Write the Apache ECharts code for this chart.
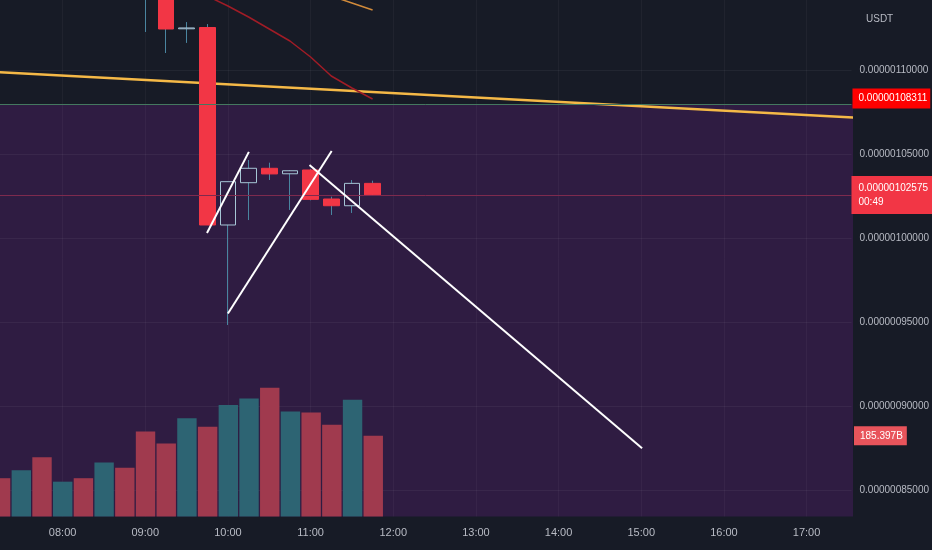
<!DOCTYPE html>
<html><head><meta charset="utf-8">
<script src="https://cdn.jsdelivr.net/npm/echarts@6/dist/echarts.min.js"></script>
<style>html,body{margin:0;padding:0;background:#171b26;}#c{width:932px;height:550px;}</style>
</head><body><div id="c"></div>
<script>
// Time values: minutes since midnight (15-minute candles). Prices in units of 1e-6 USDT.
const candleTimes = [540, 555, 570, 585, 600, 615, 630, 645, 660, 675, 690, 705];
const opens  = [1.1680, 1.1525, 1.1245, 1.12527, 1.00785, 1.0330, 1.04156, 1.0383, 1.04055, 1.0233, 1.0193, 1.0326];
const closes = [1.1525, 1.12437, 1.1250, 1.00785, 1.0336, 1.04156, 1.0382, 1.0401, 1.0231, 1.0193, 1.0326, 1.02575];
const lows   = [1.1226, 1.1101, 1.1161, 1.00785, 0.9484, 1.0108, 1.0346, 1.0168, 1.0225, 1.0138, 1.0150, 1.0257];
const highs  = [1.1720, 1.1540, 1.1285, 1.1273, 1.0336, 1.0465, 1.0449, 1.0405, 1.0412, 1.0247, 1.0346, 1.0342];

const volumeTimes = [435, 450, 465, 480, 495, 510, 525, 540, 555, 570, 585, 600, 615, 630, 645, 660, 675, 690, 705];
const volumes     = [88, 106, 136, 80, 88, 124, 112, 195, 168, 226, 206, 256, 271, 296, 241, 239, 211, 268, 185.397]; // billions
const volumeDir   = ['down','up','down','up','down','up','down','down','down','up','down','up','up','down','up','down','down','up','down'];

const maSlowTimes  = [570, 585, 600, 615, 630, 645, 660, 675, 690, 705];
const maSlowValues = [1.15113, 1.14399, 1.13805, 1.13151, 1.12437, 1.11724, 1.10773, 1.09643, 1.08930, 1.08276];
const maFastTimes  = [675, 690, 705];
const maFastValues = [1.14399, 1.13983, 1.13567];

const trendTimes  = [420, 1060];
const trendValues = [1.09926, 1.07152];

const draw1Times = [584.8, 615.2];  const draw1Values = [1.0031, 1.0513];
const draw2Times = [600.0, 675.3];  const draw2Values = [0.95524, 1.05185];
const draw3Times = [659.2, 900.6];  const draw3Values = [1.04352, 0.8751];

const timeTicks  = [480, 540, 600, 660, 720, 780, 840, 900, 960, 1020];
const priceTicks = [0.85, 0.90, 0.95, 1.00, 1.05, 1.10];

const zoneTop = 1.0798;
const alertPrice = 1.08311;
const lastPrice = 1.02575;
const countdown = '00:49';
const quoteUnit = 'USDT';

// visible window
const X_MIN = 434.563, X_MAX = 1052.59;
const Y_MIN = 0.834542, Y_MAX = 1.141617;

const FONT = "'Liberation Sans', Arial, sans-serif";
const priceFmt = v => (v * 1e-6).toFixed(11);
const timeFmt = m => { const h = Math.floor(m / 60), mm = Math.round(m % 60); return String(h).padStart(2,'0') + ':' + String(mm).padStart(2,'0'); };
const pairs = (ts, vs) => ts.map((t, i) => [t, vs[i]]);
const HIDDEN_LINE = {color: 'rgba(0,0,0,0)', width: 1};

const chart = echarts.init(document.getElementById('c'), null, {renderer: 'canvas'});
const whiteLine = (ts, vs) => ({
  type: 'line', xAxisIndex: 0, yAxisIndex: 0, data: pairs(ts, vs), symbol: 'none',
  lineStyle: {color: '#ffffff', width: 2}, silent: true, z: 5
});

chart.setOption({
  animation: false,
  backgroundColor: '#171b26',
  title: {text: quoteUnit, left: 861, top: 9, textStyle: {color: '#b8bbc4', fontSize: 10, fontWeight: 'normal', fontFamily: FONT}},
  grid: [
    {left: 0, right: 79, top: 0, bottom: 33.5},
    {left: 0, right: 79, top: 380, bottom: 33.5},
    {left: 0, right: 79, top: 104, bottom: 33.5, show: true, backgroundColor: '#2f1c42', borderWidth: 0, borderColor: 'rgba(0,0,0,0)'}
  ],
  xAxis: [
    {gridIndex: 0, type: 'value', min: X_MIN, max: X_MAX,
     axisLine: {show: false}, axisTick: {show: false, customValues: timeTicks},
     axisLabel: {customValues: timeTicks, formatter: timeFmt, color: '#b8bbc4', fontSize: 11, fontFamily: FONT, margin: 11},
     splitLine: {show: true, lineStyle: {color: 'rgba(255,255,255,0.04)', width: 1}}},
    {gridIndex: 1, type: 'value', min: X_MIN, max: X_MAX, show: false},
    {gridIndex: 2, type: 'value', show: false}
  ],
  yAxis: [
    {gridIndex: 0, type: 'value', position: 'right', min: Y_MIN, max: Y_MAX,
     axisLine: {show: false}, axisTick: {show: false, customValues: priceTicks},
     axisLabel: {customValues: priceTicks, formatter: priceFmt, color: '#b8bbc4', fontSize: 10, fontFamily: FONT, margin: 8, align: 'left'},
     splitLine: {show: true, lineStyle: {color: 'rgba(255,255,255,0.05)', width: 1}}},
    {gridIndex: 1, type: 'value', min: 0, max: 313.6, show: false},
    {gridIndex: 2, type: 'value', show: false}
  ],
  series: [
    {
      type: 'line', xAxisIndex: 0, yAxisIndex: 0, data: pairs(trendTimes, trendValues), symbol: 'none',
      lineStyle: {color: '#f5b947', width: 2.5}, silent: true, z: 2,
      markLine: {
        silent: true, symbol: ['none', 'none'], animation: false, precision: 8,
        data: [
          {yAxis: zoneTop, lineStyle: {color: '#44785f', width: 1, type: 'solid', opacity: 1}, label: {show: false}},
          {yAxis: alertPrice, lineStyle: HIDDEN_LINE,
           label: {show: true, position: 'end', distance: 1, formatter: () => priceFmt(alertPrice),
                   backgroundColor: '#ff0000', color: '#ffffff', fontSize: 10, fontFamily: FONT,
                   padding: [4, 3, 4, 6], lineHeight: 12}},
          {yAxis: lastPrice, lineStyle: {color: '#7e2a4e', width: 1, type: 'solid', opacity: 1},
           label: {show: true, position: 'end', distance: 0, formatter: () => priceFmt(lastPrice) + '\n' + countdown,
                   backgroundColor: '#f23645', color: '#ffffff', fontSize: 10, fontFamily: FONT,
                   padding: [5, 8, 5, 7], lineHeight: 14, align: 'left'}}
        ]
      }
    },
    {type: 'line', xAxisIndex: 0, yAxisIndex: 0, data: pairs(maSlowTimes, maSlowValues), symbol: 'none',
     lineStyle: {color: '#a01c26', width: 1.5}, silent: true, z: 2},
    {type: 'line', xAxisIndex: 0, yAxisIndex: 0, data: pairs(maFastTimes, maFastValues), symbol: 'none',
     lineStyle: {color: '#d08a3a', width: 1.5}, silent: true, z: 2},
    {
      type: 'candlestick', xAxisIndex: 0, yAxisIndex: 0, barWidth: 1, silent: true, z: 3,
      data: candleTimes.map((t, i) => [t, opens[i], closes[i], lows[i], highs[i]]),
      itemStyle: {color: '#4a85a0', color0: '#4a85a0', borderColor: '#4a85a0', borderColor0: '#4a85a0', borderWidth: 1}
    },
    {
      type: 'candlestick', xAxisIndex: 0, yAxisIndex: 0, barWidth: 16, silent: true, z: 4,
      data: candleTimes.map((t, i) => [t, opens[i], closes[i], Math.min(opens[i], closes[i]), Math.max(opens[i], closes[i])]),
      itemStyle: {color: '#2f1c42', color0: '#f23645', borderColor: '#a6c6d6', borderColor0: '#f23645', borderWidth: 1}
    },
    whiteLine(draw1Times, draw1Values),
    whiteLine(draw2Times, draw2Values),
    whiteLine(draw3Times, draw3Values),
    {
      type: 'bar', xAxisIndex: 1, yAxisIndex: 1, barWidth: 19.4, silent: true,
      data: volumeTimes.map((t, i) => ({value: [t, volumes[i]], itemStyle: {color: volumeDir[i] === 'up' ? '#2d6473' : '#a03a4e'}})),
      markLine: {
        silent: true, symbol: ['none', 'none'], animation: false, precision: 6,
        data: [{yAxis: volumes[volumes.length - 1], lineStyle: HIDDEN_LINE,
          label: {show: true, position: 'end', distance: 1, formatter: () => volumes[volumes.length - 1].toFixed(3) + 'B',
                  backgroundColor: '#e8545b', color: '#ffffff', fontSize: 10, fontFamily: FONT,
                  padding: [4, 4, 3, 6], lineHeight: 12}}]
      }
    }
  ]
});
</script></body></html>
